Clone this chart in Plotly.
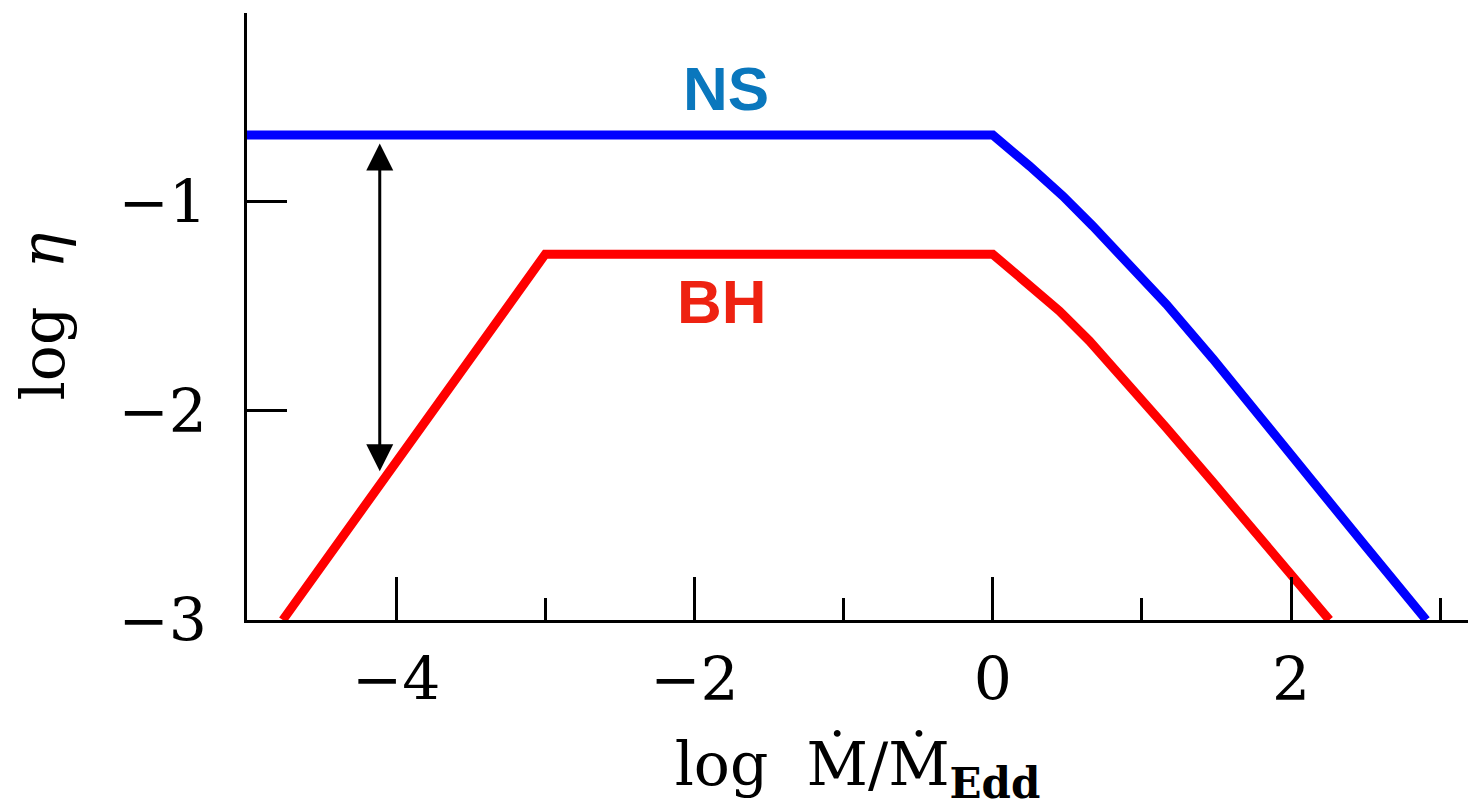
import plotly.graph_objects as go

# Data
ns_x = [-5.0, 0.0, 0.246, 0.469, 0.670, 0.872, 1.163, 1.475, 1.788, 2.146, 2.50, 2.906]
ns_y = [-0.68, -0.68, -0.828, -0.971, -1.115, -1.267, -1.489, -1.750, -2.03, -2.338, -2.648, -3.0]
bh_x = [-4.76, -3.0, 0.0, 0.246, 0.447, 0.648, 0.894, 1.163, 1.475, 1.654, 1.95, 2.257]
bh_y = [-3.0, -1.25, -1.25, -1.394, -1.522, -1.665, -1.856, -2.080, -2.34, -2.49, -2.74, -3.0]
arrow_x = -4.11
arrow_y = [-0.72, -2.295]
x_ticks = [-4, -2, 0, 2]
y_ticks = [-3, -2, -1]

serif = "DejaVu Serif"
sans = "Liberation Sans"

fig = go.Figure()
fig.add_trace(go.Scatter(x=ns_x, y=ns_y, mode="lines",
                         line=dict(color="#0000ff", width=9), showlegend=False))
fig.add_trace(go.Scatter(x=bh_x, y=bh_y, mode="lines",
                         line=dict(color="#ff0000", width=9), showlegend=False))

fig.add_annotation(x=arrow_x, y=arrow_y[0], ax=arrow_x, ay=arrow_y[1],
                   xref="x", yref="y", axref="x", ayref="y", text="",
                   showarrow=True, arrowside="end+start", arrowhead=2, startarrowhead=2,
                   arrowwidth=3, arrowsize=1.8, startarrowsize=1.8, arrowcolor="black",
                   standoff=0, startstandoff=0)

fig.add_annotation(x=-1.79, y=-0.457, text="<b>NS</b>", showarrow=False,
                   font=dict(family=sans, size=62, color="#0a77bd"))
fig.add_annotation(x=-1.815, y=-1.478, text="<b>BH</b>", showarrow=False,
                   font=dict(family=sans, size=62, color="#ee2211"))

fig.update_layout(
    width=1468, height=808,
    margin=dict(l=247, r=0, t=13, b=188),
    plot_bgcolor="white", paper_bgcolor="white",
    xaxis=dict(range=[-5, 3.186], showgrid=False, zeroline=False,
               showline=True, linecolor="black", linewidth=3,
               tickvals=x_ticks, ticks="inside", ticklen=43, tickwidth=3, tickcolor="black",
               tickfont=dict(family=serif, size=60, color="black"),
               ticklabelstandoff=5,
               minor=dict(dtick=1, tick0=1, ticks="inside", ticklen=22, tickwidth=3,
                          tickcolor="black", showgrid=False),
               title=dict(text="log  Ṁ/Ṁ<sub><b>Edd</b></sub>",
                          font=dict(family=serif, size=60, color="black"), standoff=50)),
    yaxis=dict(range=[-3, -0.096], showgrid=False, zeroline=False,
               showline=True, linecolor="black", linewidth=3,
               tickvals=y_ticks, ticks="inside", ticklen=40, tickwidth=3, tickcolor="black",
               tickfont=dict(family=serif, size=60, color="black"),
               ticklabelstandoff=25,
               title=dict(text="log  <i>η</i>",
                          font=dict(family=serif, size=60, color="black"), standoff=35)),
)

fig.write_html("out.html")
